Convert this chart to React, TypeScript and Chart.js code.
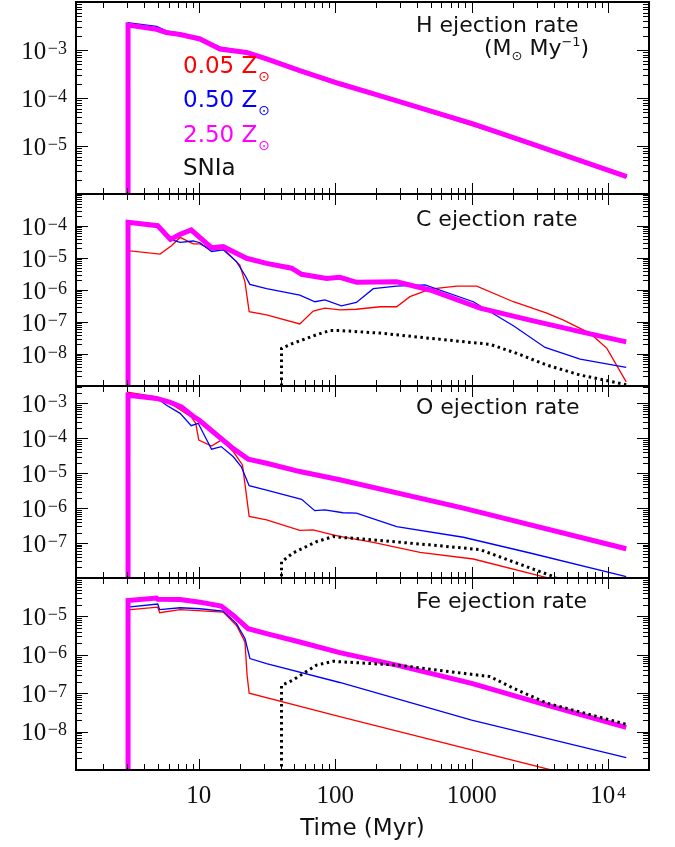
import React, { useEffect, useRef } from 'react';
import { Chart, registerables } from 'chart.js';

Chart.register(...registerables);

type Pt = [number, number];

// ---------- axes ----------
const X_MIN = Math.pow(10, 0.1);
const X_MAX = Math.pow(10, 4.3);
const X_TICK_VALUES = [10, 100, 1000, 10000];
const X_TICK_BASES = ['10', '100', '1000', '10'];
const X_TICK_EXPS = ['', '', '', '4'];

const PANEL_IDS = ['yH', 'yC', 'yO', 'yFe'];
const PANEL_TITLES = ['H ejection rate', 'C ejection rate', 'O ejection rate', 'Fe ejection rate'];
const PANEL_MIN = [1e-6, 1e-9, 1e-8, 1e-9];
const PANEL_MAX = [1e-2, 1e-3, Math.pow(10, -2.5), 1e-4];

// ---------- legend ----------
const LEGEND_Z = ['0.05', '0.50', '2.50'];
const LEGEND_COLORS = ['#ff0000', '#0000ff', '#ff00ff'];

// ---------- data (time in Myr, rate in Msun/Myr) ----------
const H_Z005: Pt[] = [[3.03, 1e-15], [3.03, 3.3e-3], [4.9, 2.7e-3], [5.8, 2.3e-3], [7.3, 2.1e-3], [10.2, 1.7e-3], [14.3, 1.05e-3], [22.4, 8.9e-4], [31.4, 6.5e-4], [55, 3.7e-4], [108, 1.98e-4], [189, 1.23e-4], [500, 5.0e-5], [1000, 2.7e-5], [2690, 1.1e-5], [13700, 2.3e-6]];
const H_Z050: Pt[] = [[3.03, 1e-15], [3.03, 3.7e-3], [4.9, 3.1e-3], [5.8, 2.5e-3], [7.3, 2.25e-3], [10.2, 1.8e-3], [14.3, 1.15e-3], [22.4, 9.3e-4], [31.4, 6.8e-4], [55, 3.8e-4], [108, 2.0e-4], [189, 1.23e-4], [1024, 2.9e-5], [2690, 1.13e-5], [13700, 2.3e-6]];
const H_Z250: Pt[] = [[3.03, 1e-15], [3.03, 3.3e-3], [4.9, 2.7e-3], [5.8, 2.3e-3], [7.3, 2.1e-3], [10.2, 1.7e-3], [14.3, 1.05e-3], [22.4, 8.9e-4], [31.4, 6.5e-4], [55, 3.7e-4], [108, 1.98e-4], [189, 1.23e-4], [1024, 2.9e-5], [2690, 1.13e-5], [13700, 2.3e-6]];

const C_Z005: Pt[] = [[3.03, 1e-15], [3.03, 1.7e-5], [5.2, 1.33e-5], [6.3, 2.4e-5], [7.3, 4.4e-5], [9.1, 2.75e-5], [10.2, 2.75e-5], [12.4, 1.8e-5], [15.1, 2.0e-5], [20, 6e-6], [21.8, 1.8e-6], [23.4, 2.1e-7], [31.4, 1.66e-7], [55, 8.7e-8], [69, 2.2e-7], [84, 2.7e-7], [108, 2.4e-7], [143, 2.5e-7], [213, 3e-7], [282, 3e-7], [353, 6.2e-7], [495, 1.07e-6], [778, 1.33e-6], [1090, 1.33e-6], [2023, 4.3e-7], [3556, 1.9e-7], [4710, 1.15e-7], [7400, 4.4e-8], [9800, 1.5e-8], [13580, 1.35e-9]];
const C_Z050: Pt[] = [[3.03, 1e-15], [3.03, 1.3e-4], [5.0, 1.02e-4], [6.2, 3.8e-5], [7.3, 3.1e-5], [9.1, 3.4e-5], [10.2, 3.0e-5], [12.4, 1.6e-5], [15.1, 1.8e-5], [18.9, 7.7e-6], [21.8, 2.9e-6], [23.7, 1.5e-6], [31.4, 1.1e-6], [55, 6.9e-7], [71, 4.3e-7], [84, 4.9e-7], [111, 3.2e-7], [143, 4.1e-7], [190, 1.1e-6], [282, 1.33e-6], [455, 1.44e-6], [1029, 4.3e-7], [2023, 7.6e-8], [3455, 1.6e-8], [6240, 6.9e-9], [13580, 3.8e-9]];
const C_Z250: Pt[] = [[3.03, 1e-15], [3.03, 1.3e-4], [5.0, 1.02e-4], [6.2, 3.8e-5], [7.3, 5.5e-5], [8.8, 7.5e-5], [12.4, 2.1e-5], [15.1, 2.26e-5], [22.4, 9.8e-6], [31.4, 6.8e-6], [47.9, 4.8e-6], [56.7, 3.1e-6], [86.5, 2.3e-6], [108, 2.5e-6], [143.5, 1.74e-6], [282, 1.8e-6], [495, 1.0e-6], [1153, 2.7e-7], [2680, 1.15e-7], [6240, 5e-8], [13580, 2.4e-8]];
const C_SNIA: Pt[] = [[40.4, 1e-15], [40.4, 1.5e-8], [49, 2.15e-8], [73, 4e-8], [91, 5.4e-8], [108, 5.4e-8], [213, 4.5e-8], [495, 3.1e-8], [1365, 2e-8], [2140, 1.05e-8], [3556, 4.5e-9], [6240, 2.2e-9], [13580, 1.1e-9]];

const O_Z005: Pt[] = [[3.03, 1e-15], [3.03, 2.1e-3], [4.9, 1.55e-3], [6.5, 8.9e-4], [8.8, 4.1e-4], [9.5, 2.7e-4], [10.0, 8.9e-5], [12.4, 6e-5], [14.6, 8.9e-5], [17.9, 4.2e-5], [20.9, 1.74e-5], [22.1, 3.3e-6], [23.4, 5.8e-7], [31.4, 4.6e-7], [55, 2.3e-7], [69, 2.4e-7], [87, 1.9e-7], [108, 1.55e-7], [190, 1.05e-7], [418, 5.4e-8], [1029, 3.5e-8], [3270, 1.12e-8], [13580, 2.7e-9]];
const O_Z050: Pt[] = [[3.03, 1e-15], [3.03, 1.93e-3], [4.9, 1.45e-3], [5.8, 8.9e-4], [7.3, 5.2e-4], [8.8, 2.3e-4], [9.9, 2.7e-4], [12.4, 4.9e-5], [14.6, 5.8e-5], [17.9, 2.97e-5], [20.5, 1.54e-5], [23.4, 4.4e-6], [31.4, 3.3e-6], [56.7, 1.8e-6], [70.8, 8.5e-7], [84, 8.9e-7], [114, 7.4e-7], [143, 7.2e-7], [282, 2.95e-7], [869, 1.47e-7], [2680, 5.2e-8], [13580, 1.1e-8]];
const O_Z250: Pt[] = [[3.03, 1e-15], [3.03, 1.73e-3], [4.9, 1.39e-3], [6.1, 1.1e-3], [7.46, 8e-4], [9.1, 4.3e-4], [10.1, 3.3e-4], [12.7, 1.55e-4], [17.9, 5.1e-5], [23, 2.55e-5], [31.4, 1.94e-5], [55, 1.12e-5], [108, 6.5e-6], [869, 1e-6], [13580, 6.9e-8]];
const O_SNIA: Pt[] = [[40.4, 1e-15], [40.4, 2.9e-8], [49, 5.2e-8], [73, 1.1e-7], [97, 1.55e-7], [108, 1.47e-7], [190, 1.23e-7], [495, 8.9e-8], [1153, 6.5e-8], [2023, 2.9e-8], [3980, 1.1e-8], [13580, 4e-10]];

const FE_Z005: Pt[] = [[3.03, 1e-15], [3.03, 1.49e-5], [5.0, 1.74e-5], [5.17, 1.25e-5], [7.3, 1.5e-5], [15.1, 1.3e-5], [18.9, 5.8e-6], [21.8, 2.15e-6], [22.6, 2.95e-7], [23.4, 1e-7], [108, 2.45e-8], [3760, 1.02e-9], [13580, 3.2e-10]];
const FE_Z050: Pt[] = [[3.03, 1e-15], [3.03, 1.74e-5], [5.0, 2.1e-5], [5.17, 1.5e-5], [7.3, 1.68e-5], [10.2, 1.58e-5], [15.1, 1.37e-5], [18.9, 6.5e-6], [21.8, 2.65e-6], [23.7, 8e-7], [31.4, 5.9e-7], [108, 1.9e-7], [1000, 2e-8], [13580, 2.1e-9]];
const FE_Z250: Pt[] = [[3.03, 1e-15], [3.03, 2.6e-5], [4.9, 3.0e-5], [5.0, 2.8e-5], [7.3, 2.76e-5], [10.2, 2.35e-5], [14.6, 1.85e-5], [17.9, 1.06e-5], [23, 4.8e-6], [31.4, 3.56e-6], [55, 2.16e-6], [108, 1.14e-6], [282, 5.4e-7], [1000, 1.8e-7], [3556, 4.9e-8], [13580, 1.29e-8]];
const FE_SNIA: Pt[] = [[40.4, 1e-15], [40.4, 1.6e-7], [49, 2.2e-7], [73, 5.4e-7], [97, 6.8e-7], [108, 6.6e-7], [282, 5.4e-7], [869, 3.3e-7], [1365, 2.7e-7], [2023, 1.35e-7], [3556, 5.5e-8], [13580, 1.55e-8]];

const SERIES: { panel: string; kind: 'z005' | 'z050' | 'z250' | 'snia'; data: Pt[] }[] = [
  { panel: 'yH', kind: 'z005', data: H_Z005 },
  { panel: 'yH', kind: 'z050', data: H_Z050 },
  { panel: 'yH', kind: 'z250', data: H_Z250 },
  { panel: 'yC', kind: 'z005', data: C_Z005 },
  { panel: 'yC', kind: 'z050', data: C_Z050 },
  { panel: 'yC', kind: 'z250', data: C_Z250 },
  { panel: 'yC', kind: 'snia', data: C_SNIA },
  { panel: 'yO', kind: 'z005', data: O_Z005 },
  { panel: 'yO', kind: 'z050', data: O_Z050 },
  { panel: 'yO', kind: 'z250', data: O_Z250 },
  { panel: 'yO', kind: 'snia', data: O_SNIA },
  { panel: 'yFe', kind: 'z005', data: FE_Z005 },
  { panel: 'yFe', kind: 'z050', data: FE_Z050 },
  { panel: 'yFe', kind: 'z250', data: FE_Z250 },
  { panel: 'yFe', kind: 'snia', data: FE_SNIA },
];

const STYLE = {
  z005: { color: '#ff0000', width: 1.3, dash: [] as number[], order: 3 },
  z050: { color: '#0000ff', width: 1.3, dash: [] as number[], order: 2 },
  z250: { color: '#ff00ff', width: 5, dash: [] as number[], order: 1 },
  snia: { color: '#000000', width: 3, dash: [2.5, 3.5], order: 0 },
};

const NUM_FAMILY = "'Liberation Serif', serif";
const TEXT_FAMILY = "'DejaVu Sans', sans-serif";

const framePlugin = {
  id: 'framePlugin',
  beforeDatasetDraw(chart: any, args: any) {
    const ds = chart.data.datasets[args.index];
    const ys = chart.scales[ds.yAxisID];
    const a = chart.chartArea;
    const ctx = chart.ctx;
    ctx.save();
    ctx.beginPath();
    ctx.rect(a.left, ys.top, a.right - a.left, ys.bottom - ys.top);
    ctx.clip();
  },
  afterDatasetDraw(chart: any) {
    chart.ctx.restore();
  },
  afterDraw(chart: any) {
    const ctx: CanvasRenderingContext2D = chart.ctx;
    const a = chart.chartArea;
    const xs = chart.scales.x;
    ctx.save();
    ctx.textBaseline = 'alphabetic';
    PANEL_IDS.forEach((id, i) => {
      const ys = chart.scales[id];
      const top = ys.top;
      const bottom = ys.bottom;
      ctx.strokeStyle = '#000';
      ctx.lineWidth = 1;
      ctx.beginPath();
      for (let d = 0; d <= 4; d++) {
        for (let m = 1; m <= 9; m++) {
          const v = m * Math.pow(10, d);
          if (v < X_MIN || v > X_MAX) continue;
          const px = Math.round(xs.getPixelForValue(v)) + 0.5;
          const len = m === 1 ? 11 : 6;
          ctx.moveTo(px, top);
          ctx.lineTo(px, top + len);
          ctx.moveTo(px, bottom);
          ctx.lineTo(px, bottom - len);
        }
      }
      const lo = Math.floor(Math.log10(PANEL_MIN[i]));
      const hi = Math.ceil(Math.log10(PANEL_MAX[i]));
      for (let d = lo; d <= hi; d++) {
        for (let m = 1; m <= 9; m++) {
          const v = m * Math.pow(10, d);
          if (v < PANEL_MIN[i] * 0.9999 || v > PANEL_MAX[i] * 1.0001) continue;
          const py = Math.round(ys.getPixelForValue(v)) + 0.5;
          const len = m === 1 ? 12 : 6;
          ctx.moveTo(a.left, py);
          ctx.lineTo(a.left + len, py);
          ctx.moveTo(a.right, py);
          ctx.lineTo(a.right - len, py);
        }
      }
      ctx.stroke();
      ctx.lineWidth = 2;
      ctx.strokeRect(a.left, top, a.right - a.left, bottom - top);

      // y tick labels: 10^e
      ctx.fillStyle = '#111';
      ctx.textAlign = 'left';
      for (let e = lo; e <= hi; e++) {
        const v = Math.pow(10, e);
        if (v <= PANEL_MIN[i] * 1.0001 || v >= PANEL_MAX[i] * 0.9999) continue;
        const py = ys.getPixelForValue(v);
        const ex = '−' + String(-e);
        ctx.font = `18px ${NUM_FAMILY}`;
        const w2 = ctx.measureText(ex).width;
        ctx.font = `25px ${NUM_FAMILY}`;
        const w1 = ctx.measureText('10').width;
        const x0 = a.left - 9 - w2 - 1.5 - w1;
        ctx.fillText('10', x0, py + 8.5);
        ctx.font = `18px ${NUM_FAMILY}`;
        ctx.fillText(ex, x0 + w1 + 1.5, py + 3.5);
      }

      // panel title
      ctx.fillStyle = '#111';
      ctx.font = `22px ${TEXT_FAMILY}`;
      const offs = [29.7, 31.7, 28, 30];
      ctx.fillText(PANEL_TITLES[i], a.left + 340, top + offs[i]);
    });

    // x tick labels
    ctx.fillStyle = '#111';
    X_TICK_VALUES.forEach((v, k) => {
      const px = xs.getPixelForValue(v);
      ctx.font = `25px ${NUM_FAMILY}`;
      const w1 = ctx.measureText(X_TICK_BASES[k]).width;
      ctx.font = `17px ${NUM_FAMILY}`;
      const w2 = X_TICK_EXPS[k] ? ctx.measureText(X_TICK_EXPS[k]).width + 2 : 0;
      const x0 = px - (w1 + w2) / 2;
      ctx.font = `25px ${NUM_FAMILY}`;
      ctx.fillText(X_TICK_BASES[k], x0, a.bottom + 33);
      if (X_TICK_EXPS[k]) {
        ctx.font = `17px ${NUM_FAMILY}`;
        ctx.fillText(X_TICK_EXPS[k], x0 + w1 + 2, a.bottom + 28);
      }
    });

    // units line in H panel
    const yH = chart.scales.yH;
    let x = a.left + 408;
    const base = yH.top + 53;
    const put = (t: string, size: number, dy: number) => {
      ctx.font = `${size}px ${TEXT_FAMILY}`;
      ctx.fillText(t, x, base + dy);
      x += ctx.measureText(t).width;
    };
    ctx.fillStyle = '#111';
    put('(M', 22, 0);
    put('⊙', 13, 5);
    put(' My', 22, 0);
    put('−1', 13, -9);
    put(')', 22, 0);

    // legend
    const lx = a.left + 107;
    const lbase = [73.3, 107.3, 141.7];
    LEGEND_Z.forEach((z, k) => {
      ctx.fillStyle = LEGEND_COLORS[k];
      ctx.font = `23px ${TEXT_FAMILY}`;
      const t = `${z} Z`;
      ctx.fillText(t, lx, lbase[k]);
      const w = ctx.measureText(t).width;
      ctx.font = `14px ${TEXT_FAMILY}`;
      ctx.fillText('⊙', lx + w + 1, lbase[k] + 8);
    });
    ctx.fillStyle = '#111';
    ctx.font = `23px ${TEXT_FAMILY}`;
    ctx.fillText('SNIa', lx, 175);
    ctx.restore();
  },
};

export default function App() {
  const ref = useRef<HTMLCanvasElement | null>(null);
  useEffect(() => {
    if (!ref.current) return;
    const datasets = SERIES.map((s) => {
      const st = STYLE[s.kind];
      return {
        label: `${s.panel}-${s.kind}`,
        data: s.data.map(([x, y]) => ({ x, y })),
        yAxisID: s.panel,
        xAxisID: 'x',
        borderColor: st.color,
        backgroundColor: st.color,
        borderWidth: st.width,
        borderDash: st.dash,
        order: st.order,
        pointRadius: 0,
        tension: 0,
        fill: false,
      };
    });
    // Stacked axes are placed bottom-up in config order, so insert Fe first.
    const yScales: any = {};
    [...PANEL_IDS].reverse().forEach((id) => {
      const i = PANEL_IDS.indexOf(id);
      yScales[id] = {
        type: 'logarithmic',
        position: 'left',
        stack: 'panels',
        stackWeight: 1,
        min: PANEL_MIN[i],
        max: PANEL_MAX[i],
        grid: { display: false, drawTicks: false },
        border: { display: false },
        ticks: { display: false },
        afterFit: (s: any) => {
          s.width = 76;
          s.paddingTop = 0;
          s.paddingBottom = 0;
        },
      };
    });
    const chart = new Chart(ref.current, {
      type: 'line',
      data: { datasets },
      options: {
        responsive: false,
        animation: false,
        devicePixelRatio: 1,
        events: [],
        layout: { padding: { left: 0, right: 26, top: 2, bottom: 0 } },
        plugins: { legend: { display: false }, tooltip: { enabled: false } },
        scales: {
          x: {
            type: 'logarithmic',
            position: 'bottom',
            min: X_MIN,
            max: X_MAX,
            grid: { display: false, drawTicks: false },
            border: { display: false },
            ticks: { display: false },
            title: {
              display: true,
              text: 'Time (Myr)',
              color: '#111',
              font: { family: TEXT_FAMILY, size: 23 },
              padding: { top: 0, bottom: 4 },
            },
            afterFit: (s: any) => {
              s.height = 77;
              s.paddingLeft = 0;
              s.paddingRight = 0;
            },
          },
          ...yScales,
        },
      } as any,
      plugins: [framePlugin],
    });
    return () => chart.destroy();
  }, []);
  return (
    <div style={{ position: 'absolute', left: 0, top: 0, width: 675, height: 847, background: '#fff' }}>
      <canvas ref={ref} width={675} height={847} style={{ display: 'block' }} />
    </div>
  );
}
